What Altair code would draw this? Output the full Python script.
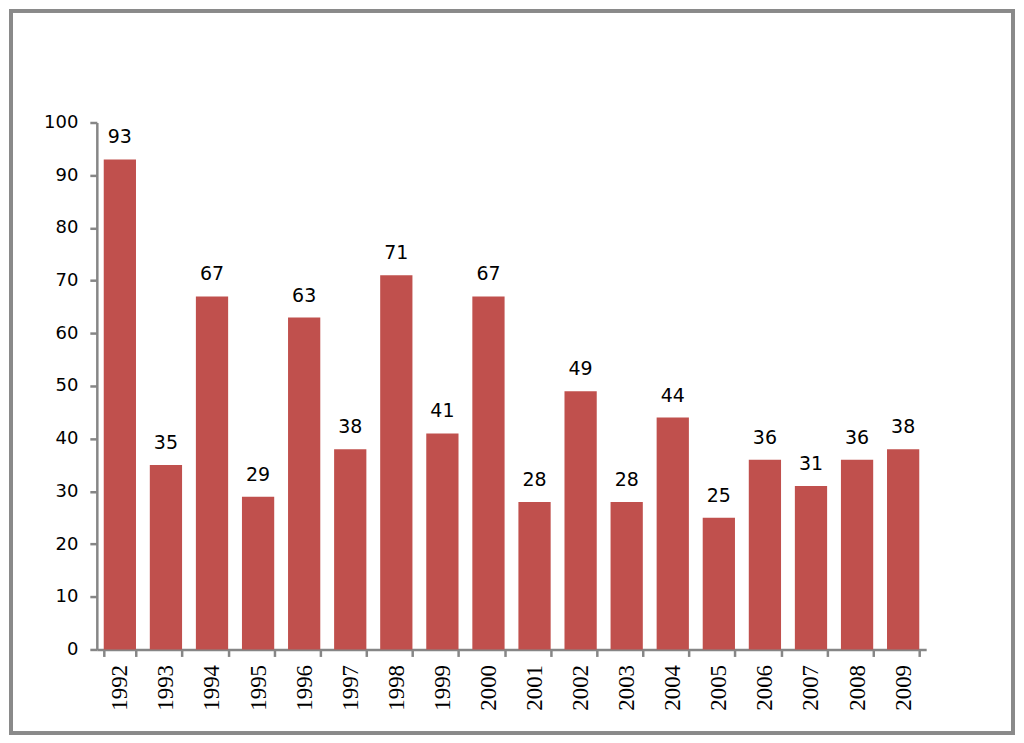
import altair as alt
import pandas as pd

years = [str(y) for y in range(1992, 2010)]
values = [93, 35, 67, 29, 63, 38, 71, 41, 67, 28, 49, 28, 44, 25, 36, 31, 36, 38]

df = pd.DataFrame({"year": years, "value": values})

W, H = 831, 528
AXIS = "#868686"

base = alt.Chart(df)

bars = base.mark_bar(color="#C0504D").encode(
    x=alt.X("year:N", sort=years,
            scale=alt.Scale(paddingInner=0.3, paddingOuter=0.15),
            axis=alt.Axis(title=None, labelAngle=-90, labelFont="Liberation Serif",
                          labelFontSize=23, labelColor="#000000", labelPadding=8,
                          domainColor=AXIS, domainWidth=2.5, tickColor=AXIS,
                          tickWidth=2.5, tickSize=7, tickBand="extent")),
    y=alt.Y("value:Q", scale=alt.Scale(domain=[0, 100], nice=False),
            axis=alt.Axis(title=None, values=list(range(0, 101, 10)), grid=False,
                          labelFont="DejaVu Sans", labelFontSize=18, labelColor="#000000",
                          labelPadding=12, domainColor=AXIS, domainWidth=2.5,
                          tickColor=AXIS, tickWidth=2.5, tickSize=7)),
)

labels = base.mark_text(font="DejaVu Sans", fontSize=19, color="#000000",
                        baseline="alphabetic", dy=-16).encode(
    x=alt.X("year:N", sort=years),
    y="value:Q",
    text="value:Q",
)

frame = base.mark_rect(fill=None, stroke="#8a8a8a", strokeWidth=3, clip=False).encode(
    x=alt.value(-86), x2=alt.value(918), y=alt.value(-112), y2=alt.value(612)
)

chart = alt.layer(frame, bars, labels).properties(
    width=W, height=H,
    background="white",
    autosize=alt.AutoSizeParams(type="none"),
    padding={"left": 89, "top": 114, "right": 90, "bottom": 87},
).configure_view(strokeWidth=0, stroke="transparent")

chart.save("out.html", embed_options={"renderer": "svg", "actions": False})
